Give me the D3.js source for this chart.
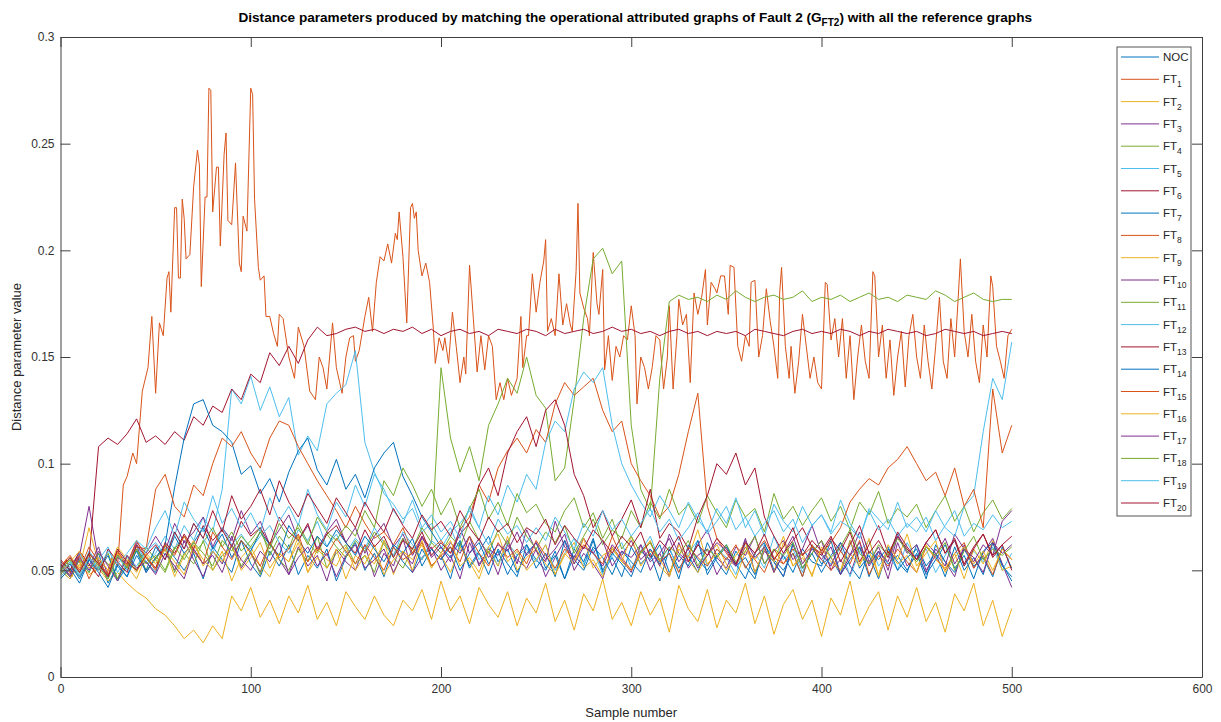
<!DOCTYPE html>
<html>
<head>
<meta charset="utf-8">
<script src="https://cdn.jsdelivr.net/npm/d3@7"></script>
<style>
  body { margin: 0; background: #fff; }
  text { font-family: "Liberation Sans", Arial, Helvetica, sans-serif; }
</style>
</head>
<body>
<script>
// sample positions shared by the step-5 series
const samples = d3.range(0, 501, 5);

const seriesNames = ['NOC', 'FT1', 'FT2', 'FT3', 'FT4', 'FT5', 'FT6', 'FT7', 'FT8', 'FT9', 'FT10',
  'FT11', 'FT12', 'FT13', 'FT14', 'FT15', 'FT16', 'FT17', 'FT18', 'FT19', 'FT20'];

const xTicks = [0, 100, 200, 300, 400, 500, 600];
const yTicks = [0, 0.05, 0.1, 0.15, 0.2, 0.25, 0.3];
const yTickLabels = ['0', '0.05', '0.1', '0.15', '0.2', '0.25', '0.3'];

const noc = [
  .050,.046,.055,.049,.058,.044,.052,.047,.060,.054,
  .049,.062,.056,.050,.058,.046,.061,.055,.049,.064,
  .053,.047,.059,.052,.062,.048,.057,.051,.060,.045,
  .056,.063,.050,.058,.047,.061,.054,.049,.060,.052,
  .057,.046,.063,.051,.058,.048,.060,.053,.047,.062,
  .055,.050,.059,.046,.057,.052,.064,.049,.056,.047,
  .061,.053,.058,.045,.060,.051,.057,.049,.063,.054,
  .048,.059,.052,.046,.062,.055,.050,.058,.047,.061,
  .053,.056,.048,.064,.051,.057,.046,.060,.054,.049,
  .062,.052,.058,.047,.061,.050,.056,.048,.063,.053,
  .045];

// FT1 is traced point by point: [sample, value]
const ft1Points = [
  [0,.050],[3,.055],[6,.047],[9,.056],[12,.050],[15,.058],[18,.049],[21,.054],[24,.047],[27,.056],
  [30,.052],[33,.090],[35,.094],[38,.105],[40,.100],[43,.134],[46,.145],[48,.169],[50,.133],[52,.166],
  [54,.160],[56,.187],[57,.190],[58,.171],[60,.220],[61,.220],[62,.187],[63,.187],[64,.224],[65,.215],
  [66,.196],[68,.198],[70,.230],[72,.247],[73,.240],[74,.183],[76,.225],[77,.225],[78,.276],[79,.275],
  [80,.218],[82,.239],[83,.239],[84,.202],[86,.245],[87,.255],[88,.214],[90,.212],[92,.241],[94,.194],
  [95,.190],[96,.216],[98,.209],[100,.276],[101,.273],[102,.224],[104,.192],[105,.186],[107,.188],[108,.169],
  [110,.169],[112,.161],[114,.155],[115,.170],[117,.168],[120,.150],[123,.140],[125,.164],[128,.155],[131,.134],
  [134,.130],[136,.150],[138,.145],[140,.135],[143,.166],[145,.145],[148,.133],[150,.150],[152,.159],[154,.160],
  [155,.148],[157,.153],[160,.169],[162,.178],[164,.162],[166,.185],[168,.197],[170,.195],[172,.203],[174,.194],
  [176,.208],[177,.205],[178,.218],[180,.197],[182,.166],[184,.220],[185,.222],[186,.215],[187,.218],[188,.200],
  [190,.188],[192,.194],[194,.185],[196,.163],[197,.147],[199,.159],[201,.153],[202,.159],[204,.147],[206,.171],
  [208,.155],[210,.138],[212,.150],[213,.142],[215,.193],[217,.168],[219,.143],[221,.160],[223,.144],[225,.160],
  [227,.155],[229,.130],[231,.138],[233,.130],[235,.140],[237,.132],[240,.140],[242,.169],[243,.145],[245,.160],
  [246,.160],[248,.189],[250,.171],[252,.185],[254,.195],[255,.205],[256,.162],[258,.168],[260,.160],[262,.189],
  [264,.165],[266,.175],[268,.165],[269,.162],[271,.190],[272,.222],[273,.180],[275,.173],[277,.168],[278,.160],
  [280,.199],[282,.175],[283,.170],[285,.191],[286,.144],[288,.160],[290,.139],[292,.155],[294,.150],[296,.160],
  [298,.158],[300,.174],[302,.160],[303,.128],[305,.150],[307,.145],[309,.135],[311,.145],[313,.160],[315,.158],
  [317,.135],[319,.150],[320,.174],[322,.135],[324,.160],[325,.177],[327,.165],[329,.170],[331,.138],[333,.180],
  [335,.170],[337,.178],[339,.191],[340,.165],[342,.185],[344,.182],[345,.180],[347,.188],[349,.188],[351,.170],
  [352,.193],[354,.192],[356,.155],[358,.148],[360,.160],[362,.155],[363,.185],[365,.186],[367,.150],[369,.160],
  [371,.182],[373,.167],[375,.155],[377,.140],[378,.180],[379,.192],[381,.155],[383,.140],[384,.155],[386,.133],
  [388,.148],[390,.170],[392,.155],[394,.140],[396,.150],[398,.138],[400,.135],[402,.185],[403,.184],[405,.158],
  [407,.168],[409,.150],[411,.168],[413,.140],[415,.160],[417,.130],[419,.150],[421,.165],[423,.148],[425,.140],
  [427,.190],[428,.188],[430,.150],[432,.165],[434,.140],[436,.158],[438,.132],[440,.150],[442,.162],[444,.136],
  [446,.160],[448,.170],[450,.150],[452,.140],[454,.165],[456,.148],[458,.135],[460,.155],[462,.178],[464,.148],
  [466,.140],[468,.168],[470,.150],[472,.180],[473,.196],[475,.162],[477,.150],[479,.170],[481,.148],[483,.138],
  [485,.165],[487,.150],[489,.188],[490,.183],[492,.155],[494,.148],[496,.140],[498,.160],[500,.163]];

const ft2 = [
  .050,.046,.053,.048,.051,.045,.049,.044,.040,.037,
  .032,.029,.024,.018,.022,.016,.024,.018,.038,.031,
  .042,.028,.036,.025,.038,.030,.043,.027,.035,.024,
  .040,.033,.027,.038,.029,.024,.036,.031,.041,.027,
  .045,.031,.038,.025,.042,.034,.028,.040,.024,.037,
  .030,.044,.026,.036,.022,.039,.031,.046,.027,.035,
  .024,.040,.029,.037,.021,.043,.032,.026,.041,.023,
  .036,.030,.044,.025,.038,.020,.034,.041,.027,.036,
  .019,.037,.029,.045,.024,.033,.040,.022,.038,.028,
  .042,.026,.035,.021,.039,.031,.044,.024,.036,.019,
  .032];

const ft3 = [
  .052,.048,.057,.080,.054,.047,.058,.051,.062,.049,
  .056,.060,.050,.064,.055,.047,.059,.053,.066,.051,
  .058,.049,.063,.055,.048,.061,.052,.057,.045,.060,
  .054,.050,.062,.047,.058,.052,.065,.049,.056,.061,
  .050,.057,.046,.063,.053,.059,.048,.062,.055,.051,
  .060,.047,.056,.064,.050,.058,.053,.046,.061,.055,
  .049,.062,.054,.058,.047,.063,.051,.057,.060,.048,
  .056,.052,.065,.049,.059,.054,.047,.062,.051,.058,
  .064,.050,.055,.048,.061,.053,.059,.046,.063,.052,
  .057,.049,.060,.054,.047,.062,.051,.058,.065,.053,
  .042];

const ft4 = [
  .049,.054,.047,.056,.051,.058,.046,.053,.060,.050,
  .055,.062,.049,.058,.053,.064,.050,.057,.061,.052,
  .059,.048,.063,.055,.050,.060,.054,.066,.051,.058,
  .062,.053,.057,.049,.064,.056,.051,.060,.055,.063,
  .145,.112,.096,.108,.092,.118,.128,.140,.133,.150,
  .132,.126,.092,.098,.130,.168,.196,.201,.189,.195,
  .118,.088,.078,.140,.176,.179,.177,.178,.176,.179,
  .177,.181,.178,.176,.178,.179,.177,.178,.181,.176,
  .178,.177,.179,.176,.178,.180,.177,.178,.176,.179,
  .178,.177,.181,.179,.176,.178,.180,.177,.176,.177,
  .177];

const ft5 = [
  .051,.055,.048,.059,.053,.046,.057,.050,.062,.054,
  .058,.066,.060,.071,.064,.075,.068,.088,.135,.128,
  .141,.125,.136,.122,.131,.104,.113,.106,.128,.133,
  .137,.153,.110,.096,.086,.081,.074,.079,.068,.072,
  .064,.070,.059,.066,.055,.061,.052,.063,.057,.060,
  .054,.062,.050,.058,.065,.053,.060,.048,.057,.063,
  .051,.059,.066,.054,.061,.049,.058,.064,.052,.060,
  .056,.048,.063,.058,.051,.066,.055,.060,.049,.062,
  .057,.053,.061,.047,.059,.064,.052,.058,.050,.063,
  .055,.060,.049,.057,.064,.052,.059,.054,.061,.050,
  .058];

const ft6 = [
  .050,.053,.047,.055,.108,.112,.109,.114,.121,.110,
  .113,.109,.115,.111,.122,.118,.127,.124,.135,.130,
  .142,.138,.152,.146,.155,.147,.158,.164,.160,.161,
  .163,.164,.162,.163,.161,.163,.162,.164,.161,.163,
  .160,.162,.163,.161,.162,.160,.163,.162,.161,.163,
  .162,.160,.163,.161,.162,.163,.161,.162,.164,.162,
  .163,.161,.162,.160,.162,.163,.161,.162,.160,.162,
  .161,.162,.160,.163,.162,.161,.160,.162,.163,.161,
  .162,.161,.163,.162,.160,.162,.161,.163,.162,.161,
  .162,.160,.161,.163,.162,.161,.162,.160,.161,.162,
  .161];

const ft7 = [
  .048,.053,.046,.055,.050,.057,.045,.052,.059,.049,
  .056,.062,.089,.112,.128,.130,.118,.115,.110,.095,
  .099,.086,.093,.082,.096,.106,.112,.097,.090,.102,
  .088,.095,.084,.098,.105,.110,.094,.085,.075,.068,
  .061,.056,.064,.052,.059,.066,.054,.060,.049,.058,
  .063,.051,.057,.046,.060,.054,.065,.050,.058,.053,
  .047,.059,.055,.062,.049,.057,.052,.064,.048,.056,
  .061,.053,.046,.058,.063,.050,.057,.049,.060,.054,
  .052,.064,.048,.055,.061,.047,.059,.053,.057,.050,
  .058,.046,.062,.054,.049,.060,.052,.056,.047,.061,
  .051];

const ft8 = [
  .053,.049,.057,.046,.055,.050,.059,.052,.061,.060,
  .088,.095,.080,.075,.090,.085,.100,.112,.108,.115,
  .105,.098,.112,.120,.118,.108,.100,.092,.085,.078,
  .070,.080,.072,.065,.068,.062,.070,.058,.066,.060,
  .064,.058,.069,.075,.090,.082,.098,.106,.112,.105,
  .116,.110,.128,.138,.132,.136,.140,.125,.115,.120,
  .100,.092,.085,.075,.080,.095,.115,.133,.080,.065,
  .058,.052,.061,.055,.049,.060,.053,.058,.047,.062,
  .055,.050,.059,.053,.064,.048,.057,.052,.060,.054,
  .049,.061,.056,.050,.058,.063,.051,.057,.048,.060,
  .055];

const ft9 = [
  .049,.056,.051,.070,.053,.047,.058,.052,.046,.057,
  .051,.060,.054,.048,.062,.055,.050,.059,.045,.056,
  .061,.052,.047,.058,.054,.063,.049,.056,.051,.060,
  .046,.057,.053,.062,.048,.055,.059,.050,.064,.052,
  .057,.049,.061,.054,.046,.059,.052,.066,.050,.056,
  .060,.053,.048,.057,.063,.051,.055,.047,.061,.054,
  .050,.058,.064,.052,.047,.060,.055,.049,.057,.062,
  .053,.046,.059,.055,.061,.049,.063,.052,.056,.048,
  .060,.054,.050,.058,.052,.065,.047,.059,.053,.057,
  .049,.062,.055,.051,.058,.046,.060,.053,.064,.050,
  .052];

const ft10 = [
  .054,.050,.058,.052,.061,.047,.056,.053,.063,.058,
  .066,.059,.072,.063,.068,.075,.061,.070,.064,.078,
  .067,.073,.062,.069,.076,.064,.071,.060,.068,.074,
  .063,.070,.058,.066,.072,.061,.067,.057,.065,.060,
  .055,.063,.058,.066,.052,.060,.057,.064,.053,.069,
  .059,.054,.073,.061,.056,.065,.058,.052,.062,.057,
  .064,.055,.060,.052,.067,.058,.054,.062,.069,.056,
  .051,.061,.057,.066,.053,.059,.064,.055,.060,.071,
  .058,.052,.063,.057,.068,.054,.061,.050,.066,.059,
  .055,.063,.058,.052,.067,.060,.054,.062,.057,.073,
  .078];

const ft11 = [
  .051,.047,.055,.049,.058,.053,.046,.057,.050,.061,
  .055,.049,.060,.066,.058,.063,.070,.061,.068,.059,
  .064,.070,.057,.066,.060,.072,.063,.058,.067,.061,
  .056,.064,.059,.068,.062,.057,.065,.060,.070,.063,
  .058,.066,.061,.073,.064,.058,.069,.062,.075,.066,
  .060,.068,.063,.071,.058,.066,.074,.062,.069,.065,
  .078,.070,.082,.074,.088,.076,.081,.072,.085,.077,
  .070,.083,.075,.079,.068,.086,.074,.080,.071,.078,
  .084,.073,.080,.069,.082,.076,.087,.072,.079,.075,
  .081,.070,.078,.085,.073,.080,.068,.077,.083,.074,
  .079];

const ft12 = [
  .047,.052,.058,.050,.055,.061,.049,.056,.052,.059,
  .063,.057,.068,.060,.072,.065,.058,.070,.062,.067,
  .060,.066,.071,.063,.058,.069,.064,.073,.061,.067,
  .058,.065,.060,.070,.063,.057,.068,.062,.055,.064,
  .060,.068,.072,.078,.070,.085,.076,.090,.082,.095,
  .088,.110,.120,.115,.135,.143,.138,.145,.118,.100,
  .090,.082,.075,.085,.078,.070,.082,.074,.068,.079,
  .072,.084,.070,.078,.066,.081,.073,.068,.080,.071,
  .076,.068,.083,.072,.065,.079,.074,.069,.082,.070,
  .075,.068,.078,.070,.066,.080,.085,.115,.140,.130,
  .157];

const ft13 = [
  .055,.050,.059,.053,.047,.060,.054,.049,.062,.056,
  .051,.063,.058,.067,.060,.071,.064,.069,.061,.073,
  .066,.070,.062,.075,.068,.064,.072,.059,.067,.071,
  .063,.058,.069,.061,.066,.056,.064,.060,.068,.057,
  .063,.058,.067,.072,.090,.098,.085,.105,.115,.122,
  .108,.125,.130,.118,.095,.085,.070,.078,.066,.074,
  .083,.070,.088,.065,.072,.068,.060,.075,.085,.100,
  .095,.105,.090,.098,.075,.066,.058,.064,.070,.061,
  .057,.065,.059,.068,.054,.062,.071,.058,.066,.060,
  .055,.063,.069,.058,.064,.052,.060,.067,.057,.062,
  .050];

const ft14 = [
  .046,.051,.044,.055,.049,.042,.053,.047,.057,.050,
  .061,.055,.066,.058,.063,.070,.060,.067,.056,.064,
  .059,.068,.062,.057,.071,.064,.058,.066,.061,.069,
  .063,.057,.066,.060,.054,.062,.058,.065,.052,.060,
  .055,.061,.050,.058,.063,.053,.059,.048,.057,.062,
  .051,.058,.047,.064,.055,.050,.061,.056,.048,.059,
  .054,.049,.060,.053,.058,.046,.062,.055,.050,.057,
  .062,.052,.056,.048,.060,.054,.047,.063,.051,.058,
  .049,.057,.063,.052,.046,.059,.055,.061,.050,.056,
  .060,.048,.055,.062,.051,.057,.046,.059,.063,.052,
  .047];

const ft15 = [
  .052,.057,.050,.061,.054,.048,.059,.053,.064,.056,
  .050,.062,.057,.066,.059,.053,.068,.061,.055,.064,
  .058,.052,.063,.056,.060,.067,.054,.061,.057,.065,
  .059,.053,.062,.056,.050,.061,.055,.058,.063,.052,
  .057,.061,.054,.066,.058,.052,.063,.056,.060,.053,
  .064,.057,.051,.060,.055,.062,.058,.053,.066,.056,
  .050,.059,.063,.054,.058,.049,.061,.056,.052,.060,
  .055,.062,.051,.058,.064,.056,.053,.060,.057,.061,
  .058,.063,.070,.082,.088,.093,.090,.098,.102,.108,
  .100,.092,.096,.085,.098,.080,.088,.070,.135,.105,
  .118];

const ft16 = [
  .048,.054,.059,.051,.056,.050,.061,.055,.049,.058,
  .053,.060,.047,.057,.064,.052,.059,.054,.062,.050,
  .056,.063,.051,.058,.054,.066,.049,.060,.055,.052,
  .061,.050,.057,.053,.064,.048,.059,.055,.062,.051,
  .058,.064,.052,.056,.049,.061,.067,.054,.059,.050,
  .055,.062,.048,.058,.053,.065,.051,.057,.060,.054,
  .066,.052,.059,.055,.048,.062,.056,.069,.053,.058,
  .050,.057,.063,.049,.060,.054,.066,.052,.058,.047,
  .061,.056,.050,.064,.053,.059,.048,.062,.055,.067,
  .052,.058,.064,.049,.056,.061,.053,.059,.050,.060,
  .055];

const ft17 = [
  .053,.047,.056,.050,.059,.052,.045,.057,.051,.054,
  .048,.058,.052,.046,.060,.053,.057,.049,.062,.055,
  .050,.059,.054,.063,.048,.056,.061,.052,.058,.047,
  .057,.062,.051,.055,.060,.049,.058,.053,.066,.056,
  .061,.054,.070,.058,.065,.056,.062,.059,.068,.057,
  .063,.055,.060,.067,.053,.061,.058,.064,.052,.059,
  .056,.062,.050,.058,.065,.054,.060,.051,.057,.063,
  .059,.052,.064,.056,.061,.049,.058,.066,.053,.060,
  .055,.061,.048,.057,.063,.052,.059,.054,.067,.058,
  .062,.050,.057,.065,.053,.060,.056,.049,.063,.058,
  .062];

const ft18 = [
  .050,.055,.049,.058,.052,.046,.057,.051,.060,.053,
  .057,.050,.061,.055,.063,.058,.052,.064,.059,.066,
  .061,.068,.060,.072,.065,.070,.062,.075,.068,.064,
  .071,.066,.078,.070,.092,.085,.098,.090,.080,.088,
  .076,.084,.070,.079,.088,.074,.082,.071,.086,.077,
  .081,.072,.068,.078,.084,.070,.077,.065,.074,.060,
  .066,.058,.063,.055,.061,.057,.064,.052,.060,.056,
  .062,.054,.059,.066,.053,.060,.057,.063,.051,.058,
  .064,.056,.061,.069,.058,.053,.062,.057,.065,.059,
  .054,.061,.057,.063,.050,.059,.066,.055,.060,.057,
  .061];

const ft19 = [
  .049,.054,.047,.056,.051,.059,.053,.058,.064,.060,
  .070,.078,.066,.082,.074,.068,.085,.072,.079,.070,
  .077,.068,.084,.073,.080,.071,.088,.076,.069,.082,
  .075,.090,.080,.095,.088,.078,.072,.083,.070,.076,
  .068,.073,.065,.080,.070,.062,.074,.067,.071,.063,
  .070,.064,.075,.068,.060,.072,.066,.078,.069,.074,
  .066,.072,.079,.068,.074,.064,.070,.077,.067,.073,
  .080,.069,.075,.066,.072,.078,.068,.074,.063,.071,
  .076,.067,.073,.070,.065,.078,.069,.074,.066,.072,
  .068,.075,.064,.071,.078,.066,.072,.069,.076,.070,
  .073];

const ft20 = [
  .051,.056,.049,.058,.053,.047,.060,.054,.050,.057,
  .062,.055,.068,.060,.072,.065,.078,.068,.085,.074,
  .080,.088,.076,.092,.082,.075,.086,.079,.072,.084,
  .077,.070,.082,.074,.068,.079,.071,.065,.076,.069,
  .073,.066,.078,.070,.064,.075,.068,.072,.063,.070,
  .067,.074,.062,.071,.065,.060,.069,.064,.058,.066,
  .061,.068,.056,.064,.059,.066,.054,.062,.057,.065,
  .060,.053,.063,.058,.067,.055,.061,.070,.057,.064,
  .059,.066,.054,.062,.071,.058,.064,.056,.068,.061,
  .055,.063,.069,.058,.065,.053,.061,.067,.056,.062,
  .066];

// MATLAB default colour order, cycled
const palette = ['#0072BD', '#D95319', '#EDB120', '#7E2F8E', '#77AC30', '#4DBEEE', '#A2142F'];

const toPoints = (values) => values.map((v, i) => [samples[i], v]);

const seriesData = [noc, ft1Points, ft2, ft3, ft4, ft5, ft6, ft7, ft8, ft9, ft10,
  ft11, ft12, ft13, ft14, ft15, ft16, ft17, ft18, ft19, ft20]
  .map((s, i) => ({
    name: seriesNames[i],
    color: palette[i % palette.length],
    points: i === 1 ? s : toPoints(s),
  }));

const width = 1221;
const height = 722;
const plot = { left: 60.5, right: 1202, top: 37, bottom: 677 };

const x = d3.scaleLinear().domain([0, 600]).range([plot.left, plot.right]);
const y = d3.scaleLinear().domain([0, 0.3]).range([plot.bottom, plot.top]);

const svg = d3.select('body').append('svg')
  .attr('width', width)
  .attr('height', height);

svg.append('defs').append('clipPath').attr('id', 'clip')
  .append('rect')
  .attr('x', plot.left).attr('y', plot.top)
  .attr('width', plot.right - plot.left).attr('height', plot.bottom - plot.top);

const line = d3.line().x((d) => x(d[0])).y((d) => y(d[1]));

svg.append('g')
  .attr('clip-path', 'url(#clip)')
  .selectAll('path')
  .data(seriesData)
  .enter()
  .append('path')
  .attr('d', (d) => line(d.points))
  .attr('fill', 'none')
  .attr('stroke', (d) => d.color)
  .attr('stroke-width', 1)
  .attr('stroke-linejoin', 'round');

// axes: ticks point inward on all four sides (box on)
const tickLen = 10;
const axisColor = '#404040';

const styleAxis = (g) => {
  g.selectAll('.domain').attr('stroke', axisColor);
  g.selectAll('.tick line').attr('stroke', axisColor);
  g.selectAll('.tick text').attr('fill', '#333').style('font-size', '12px');
};

svg.append('g')
  .attr('transform', `translate(0,${plot.bottom})`)
  .call(d3.axisBottom(x).tickValues(xTicks).tickSizeInner(-tickLen).tickSizeOuter(0).tickPadding(7))
  .call(styleAxis);

svg.append('g')
  .attr('transform', `translate(0,${plot.top})`)
  .call(d3.axisTop(x).tickValues(xTicks).tickSizeInner(-tickLen).tickSizeOuter(0).tickFormat(''))
  .call(styleAxis);

svg.append('g')
  .attr('transform', `translate(${plot.left},0)`)
  .call(d3.axisLeft(y).tickValues(yTicks).tickSizeInner(-tickLen).tickSizeOuter(0).tickPadding(6)
    .tickFormat((d, i) => yTickLabels[i]))
  .call(styleAxis);

svg.append('g')
  .attr('transform', `translate(${plot.right},0)`)
  .call(d3.axisRight(y).tickValues(yTicks).tickSizeInner(-tickLen).tickSizeOuter(0).tickFormat(''))
  .call(styleAxis);

// labels
svg.append('text')
  .attr('x', (plot.left + plot.right) / 2)
  .attr('y', 717)
  .attr('text-anchor', 'middle')
  .attr('fill', '#262626')
  .style('font-size', '13px')
  .text('Sample number');

svg.append('text')
  .attr('transform', `translate(21,${(plot.top + plot.bottom) / 2}) rotate(-90)`)
  .attr('text-anchor', 'middle')
  .attr('fill', '#262626')
  .style('font-size', '13px')
  .text('Distance parameter value');

const title = svg.append('text')
  .attr('x', (plot.left + plot.right) / 2 + 4)
  .attr('y', 22)
  .attr('text-anchor', 'middle')
  .attr('fill', '#000')
  .style('font-size', '13.6px')
  .style('font-weight', 'bold');
title.append('tspan').text('Distance parameters produced by matching the operational attributed graphs of Fault 2 (G');
title.append('tspan').attr('dy', 4).style('font-size', '10px').text('FT2');
title.append('tspan').attr('dy', -4).text(') with all the reference graphs');

// legend
const legend = { x: 1117, y: 47, w: 74, h: 469, rowH: 22.3, firstRow: 57 };

svg.append('rect')
  .attr('x', legend.x).attr('y', legend.y)
  .attr('width', legend.w).attr('height', legend.h)
  .attr('fill', '#fff')
  .attr('stroke', '#555')
  .attr('stroke-width', 1);

const rows = svg.append('g')
  .selectAll('g')
  .data(seriesData)
  .enter()
  .append('g')
  .attr('transform', (d, i) => `translate(0,${legend.firstRow + i * legend.rowH})`);

rows.append('line')
  .attr('x1', legend.x + 4).attr('x2', legend.x + 42)
  .attr('stroke', (d) => d.color)
  .attr('stroke-width', 1);

const labels = rows.append('text')
  .attr('x', legend.x + 46)
  .attr('y', 4)
  .attr('fill', '#262626')
  .style('font-size', '11.5px');

labels.each(function (d) {
  const t = d3.select(this);
  if (d.name === 'NOC') {
    t.text('NOC');
  } else {
    t.append('tspan').text('FT');
    t.append('tspan').attr('dy', 4).style('font-size', '8.5px').text(d.name.slice(2));
  }
});
</script>
</body>
</html>
